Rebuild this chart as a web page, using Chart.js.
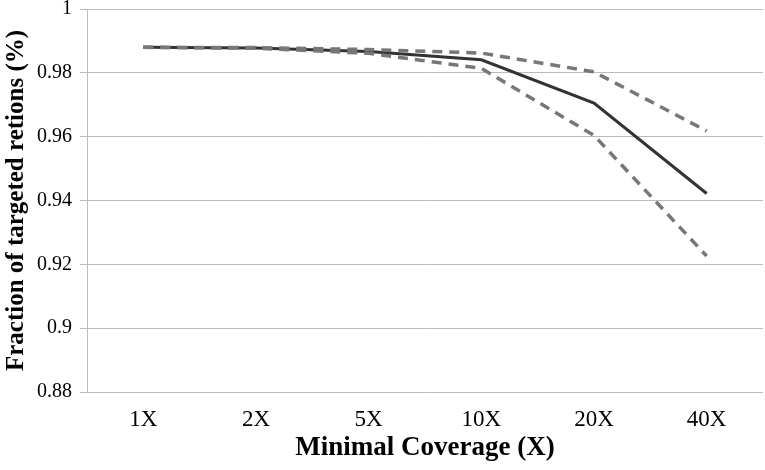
<!DOCTYPE html>
<html>
<head>
<meta charset="utf-8">
<script src="https://cdn.jsdelivr.net/npm/chart.js@4/dist/chart.umd.min.js"></script>
<style>
  html, body { margin: 0; padding: 0; background: #fff; }
  #wrap { width: 765px; height: 470px; }
</style>
</head>
<body>
<div id="wrap"><canvas id="chart" width="765" height="470"></canvas></div>
<script>
"use strict";

// coverage thresholds and fraction of targeted regions reached
const categories = ["1X", "2X", "5X", "10X", "20X", "40X"];
const meanVals  = [0.988, 0.9878, 0.9867, 0.9841, 0.9705, 0.9422];
const upperVals = [0.988, 0.9879, 0.9873, 0.9862, 0.9803, 0.9618];
const lowerVals = [0.988, 0.9877, 0.9861, 0.9814, 0.9604, 0.9226];
const yTicks = [0.88, 0.9, 0.92, 0.94, 0.96, 0.98, 1];

const SERIF = "'Liberation Serif', 'Times New Roman', serif";

function dashed(data) {
  return {
    data, borderColor: "#777777", borderWidth: 3.5, borderDash: [10, 7],
    pointRadius: 0, tension: 0, fill: false, borderCapStyle: "butt",
  };
}

new Chart(document.getElementById("chart"), {
  type: "line",
  data: {
    labels: categories,
    datasets: [
      dashed(upperVals),
      dashed(lowerVals),
      { data: meanVals, borderColor: "#333333", borderWidth: 3, pointRadius: 0, tension: 0, fill: false },
    ],
  },
  options: {
    responsive: false,
    animation: false,
    layout: { padding: { top: 0, right: 2, left: 0, bottom: 0 } },
    plugins: { legend: { display: false }, tooltip: { enabled: false } },
    scales: {
      x: {
        offset: true,
        grid: { display: false, drawTicks: false },
        border: { display: false },
        ticks: { color: "#000", font: { family: SERIF, size: 23 }, padding: 14 },
        title: {
          display: true, text: "Minimal Coverage (X)", color: "#000",
          font: { family: SERIF, size: 27, weight: "bold" }, padding: { top: 2, bottom: 6 },
        },
        afterFit: (s) => { s.height = 78; },
      },
      y: {
        min: 0.88, max: 1,
        afterBuildTicks: (s) => { s.ticks = yTicks.map((v) => ({ value: v })); },
        grid: { color: "#bbbbbb", lineWidth: 1, tickLength: 7 },
        border: { display: true, color: "#bbbbbb", width: 1 },
        ticks: {
          color: "#000", font: { family: SERIF, size: 20 }, padding: 8,
          callback: (v) => String(Math.round(v * 100) / 100),
        },
        title: {
          display: true, text: "Fraction of targeted retions (%)", color: "#000",
          font: { family: SERIF, size: 25, weight: "bold" }, padding: { top: 2, bottom: 4 },
        },
        afterFit: (s) => { s.width = 87; s.paddingTop = 9; },
      },
    },
  },
});
</script>
</body>
</html>
